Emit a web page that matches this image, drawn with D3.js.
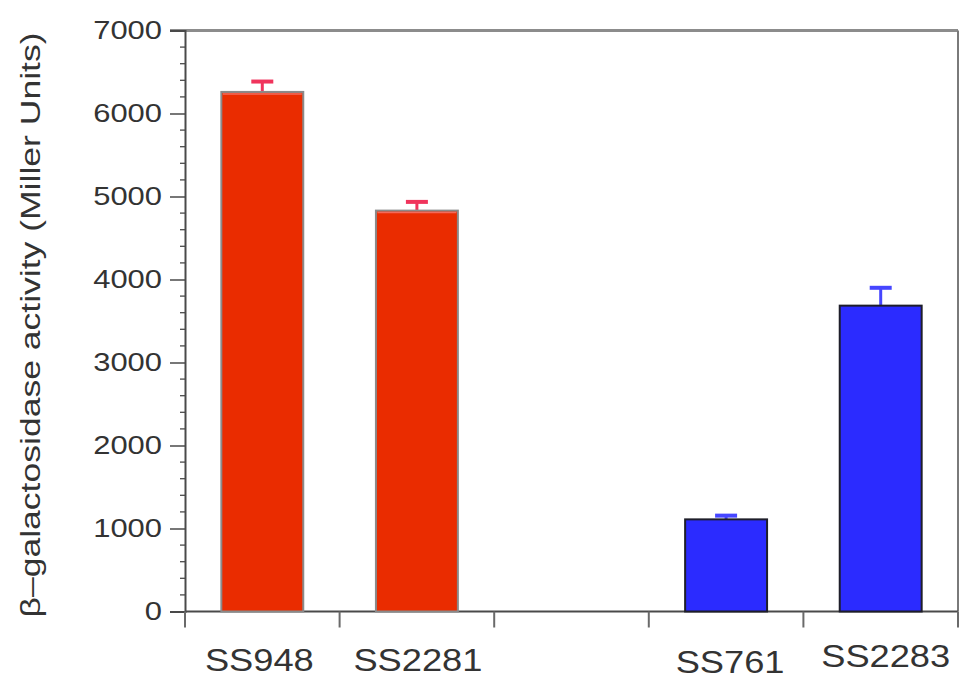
<!DOCTYPE html>
<html>
<head>
<meta charset="utf-8">
<script src="https://cdn.jsdelivr.net/npm/d3@7/dist/d3.min.js"></script>
<style>
  html, body { margin: 0; padding: 0; background: #fff; }
  svg { display: block; }
  text { font-family: "Liberation Sans", Arial, Helvetica, sans-serif; fill: #333; }
</style>
</head>
<body>
<svg id="chart" width="960" height="679"></svg>
<script>
// Strains along the x axis; the empty slot separates the two groups.
const strains = ["SS948", "SS2281", "", "SS761", "SS2283"];
// Mean beta-galactosidase activity (Miller units) and standard error.
const activity = [6260, 4830, null, 1110, 3685];
const errors   = [125, 105, null, 45, 215];
const group    = ["red", "red", null, "blue", "blue"];
const yTicks   = [0, 1000, 2000, 3000, 4000, 5000, 6000, 7000];

const svg = d3.select("#chart");
const plotLeft = 185, plotRight = 958, plotTop = 30.5, plotBottom = 611.5;
const hStretch = 1.17;

const x = d3.scaleBand().domain(d3.range(strains.length)).range([plotLeft, plotRight]).padding(0);
const y = d3.scaleLinear().domain([0, 7000]).range([plotBottom, plotTop]);

const fills   = { red: "#ea2c00", blue: "#2b2bff" };
const strokes = { red: "#8a8a8a", blue: "#1e1e2a" };
const errCol  = { red: "#f0345c", blue: "#4646ff" };

// frame: top and right edges
svg.append("line").attr("x1", 170).attr("x2", plotRight).attr("y1", plotTop).attr("y2", plotTop)
  .attr("stroke", "#8c8c8c").attr("stroke-width", 3);
svg.append("line").attr("x1", plotRight).attr("x2", plotRight).attr("y1", plotTop).attr("y2", plotBottom)
  .attr("stroke", "#7a7a7a").attr("stroke-width", 2);

// y axis with major and minor ticks
const yAxis = d3.axisLeft(y).tickValues(yTicks).tickSize(15).tickPadding(8).tickFormat(d3.format("d"));
const gy = svg.append("g").attr("transform", `translate(${plotLeft},0)`).call(yAxis);
gy.select(".domain").attr("stroke", "#4a4a4a").attr("stroke-width", 2);
gy.selectAll(".tick line").attr("stroke", "#4a4a4a").attr("stroke-width", 1.5);
gy.selectAll(".tick text").remove();
const minor = d3.range(0, 7001, 200).filter(v => v % 1000 !== 0);
gy.selectAll(".minor").data(minor).join("line").attr("class", "minor")
  .attr("x1", -5).attr("x2", 0).attr("y1", d => y(d)).attr("y2", d => y(d))
  .attr("stroke", "#4a4a4a").attr("stroke-width", 1.3);
gy.selectAll(".ylab").data(yTicks).join("g").attr("class", "ylab")
  .attr("transform", d => `translate(${162 - plotLeft},${y(d) + 8.5}) scale(1.19,1)`)
  .append("text").attr("text-anchor", "end").attr("font-size", 26).text(d => d);

// x axis: ticks at slot boundaries
const xb = strains.map((s, i) => x(i)).concat([plotRight]);
svg.append("line").attr("x1", plotLeft).attr("x2", plotRight).attr("y1", plotBottom).attr("y2", plotBottom)
  .attr("stroke", "#4a4a4a").attr("stroke-width", 2);
svg.selectAll(".xtick").data(xb).join("line").attr("class", "xtick")
  .attr("x1", d => d).attr("x2", d => d).attr("y1", plotBottom).attr("y2", plotBottom + 16)
  .attr("stroke", "#6a6a6a").attr("stroke-width", 2);

// bars
const barFrac = 0.53;
const bw = x.bandwidth() * barFrac;
const bars = strains.map((s, i) => ({ i, s, v: activity[i], e: errors[i], g: group[i] }))
  .filter(d => d.v != null);

// error bars (upper whisker only)
svg.selectAll(".err").data(bars).join("line").attr("class", "err")
  .attr("x1", d => x(d.i) + x.bandwidth() / 2).attr("x2", d => x(d.i) + x.bandwidth() / 2)
  .attr("y1", d => y(d.v)).attr("y2", d => y(d.v + d.e))
  .attr("stroke", d => errCol[d.g]).attr("stroke-width", 3);
svg.selectAll(".cap").data(bars).join("line").attr("class", "cap")
  .attr("x1", d => x(d.i) + x.bandwidth() / 2 - 11).attr("x2", d => x(d.i) + x.bandwidth() / 2 + 11)
  .attr("y1", d => y(d.v + d.e)).attr("y2", d => y(d.v + d.e))
  .attr("stroke", d => errCol[d.g]).attr("stroke-width", 4);

svg.selectAll(".bar").data(bars).join("rect").attr("class", "bar")
  .attr("x", d => x(d.i) + (x.bandwidth() - bw) / 2)
  .attr("width", bw)
  .attr("y", d => y(d.v))
  .attr("height", d => y(0) - y(d.v))
  .attr("fill", d => fills[d.g])
  .attr("stroke", d => strokes[d.g]).attr("stroke-width", 2);
// light highlight under the top edge of the red bars
svg.selectAll(".hl").data(bars.filter(d => d.g === "red")).join("line").attr("class", "hl")
  .attr("x1", d => x(d.i) + (x.bandwidth() - bw) / 2 + 1.5)
  .attr("x2", d => x(d.i) + (x.bandwidth() + bw) / 2 - 1.5)
  .attr("y1", d => y(d.v) + 2).attr("y2", d => y(d.v) + 2)
  .attr("stroke", "#f46a5a").attr("stroke-width", 1.5);

// strain labels, nudged slightly as typeset under each bar
const labelShift = [[-3, 0], [1, 0], [0, 0], [4, 2], [5, -4]];
svg.selectAll(".xlab").data(bars).join("g").attr("class", "xlab")
  .attr("transform", d => `translate(${x(d.i) + x.bandwidth() / 2 + labelShift[d.i][0]},${671 + labelShift[d.i][1]}) scale(${hStretch},1)`)
  .append("text").attr("text-anchor", "middle").attr("font-size", 31).text(d => d.s);

// y axis title
svg.append("text")
  .attr("transform", `translate(40,${325}) rotate(-90)`)
  .attr("text-anchor", "middle")
  .attr("font-size", 27)
  .attr("textLength", 585).attr("lengthAdjust", "spacingAndGlyphs")
  .text("β–galactosidase activity (Miller Units)");
</script>
</body>
</html>
